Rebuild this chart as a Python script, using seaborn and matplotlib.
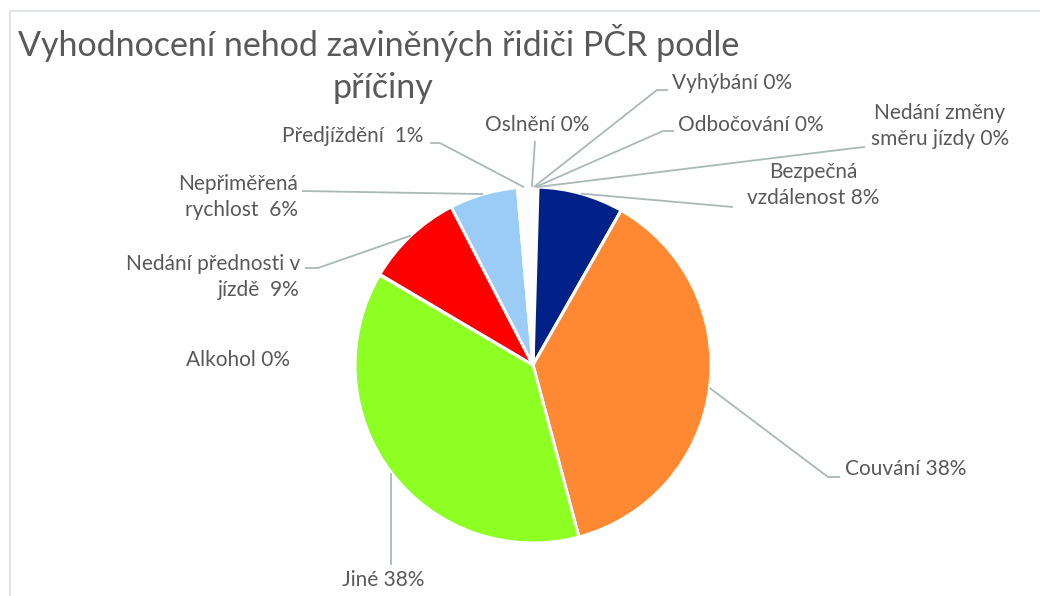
import matplotlib
matplotlib.use("Agg")
import matplotlib.pyplot as plt
import seaborn as sns
import numpy as np

# data (percent of accidents by cause), clockwise from 12 o'clock
causes = ["Vyhýbání", "Odbočování", "Nedání změny\nsměru jízdy", "Bezpečná\nvzdálenost",
          "Couvání", "Jiné", "Alkohol", "Nedání přednosti v\njízdě ", "Nepřiměřená\nrychlost ",
          "Předjíždění ", "Oslnění"]
shares = [0.15, 0.15, 0.15, 7.8, 37.6, 37.6, 0.05, 8.9, 6.2, 1.2, 0.2]
colors = ["#7F7F7F", "#A5A5A5", "#5B9BD5", "#002288", "#FF8833", "#8EFF22",
          "#C00000", "#FF0000", "#9ACCF5", "#FCFCFC", "#92D050"]

title_lines = ["Vyhodnocení nehod zaviněných řidiči PČR podle", "příčiny"]

sns.set_theme(style="white")
plt.rcParams['font.family'] = ['Lato', 'DejaVu Sans']

W, H = 1040, 596
fig = plt.figure(figsize=(W / 100, H / 100), dpi=100)
ax = fig.add_axes([0, 0, 1, 1])


def py(y):
    # pixel row -> data y
    return H - y


cx, cy, r = 533, 365, 178
wedges, _ = ax.pie(shares, colors=colors, startangle=90, counterclock=False,
                   center=(cx, py(cy)), radius=r, frame=True,
                   wedgeprops=dict(edgecolor="white", linewidth=2.2))
ax.set_xlim(0, W)
ax.set_ylim(0, H)
ax.set_aspect("equal")
ax.axis("off")

# chart area border (runs off the right/bottom of the picture)
ax.plot([10, 10, W + 5], [py(H + 5), py(11), py(11)], color="#D9DFDC", lw=1.2, clip_on=False)

ax.text(379, py(43), title_lines[0], ha="center", va="center", fontsize=24.5, color="#595959")
ax.text(383, py(88), title_lines[1], ha="center", va="center", fontsize=24.5, color="#595959")

# label layout: text anchor, alignment, leader path (pixel coords)
label_layout = [
    ((672, 83), "left", [(657, 90), (668, 90)]),
    ((678, 125), "left", [(663, 131), (674, 131)]),
    ((940, 126), "center", [(855, 148), (865, 147)]),
    ((813, 185), "center", [(733, 207)]),
    ((845, 469), "left", [(828, 477), (840, 477)]),
    ((383, 580), "center", [None, 565]),
    ((290, 360), "right", None),
    ((300, 277), "right", [(318, 268), (305, 268)]),
    ((298, 197), "right", [(302, 191)]),
    ((423, 136), "right", [(440, 143), (430, 143)]),
    ((537, 125), "center", [(535, 141)]),
]

leader = "#A9B9B6"
for w, name, v, (pos, ha, path) in zip(wedges, causes, shares, label_layout):
    mid = np.deg2rad((w.theta1 + w.theta2) / 2)
    sx, sy = cx + r * np.cos(mid), cy - r * np.sin(mid)
    if path is not None:
        if path[0] is None:
            pts = [(sx, sy), (sx, path[1])]
        else:
            pts = [(sx, sy)] + path
        xs = [p[0] for p in pts]
        ys = [py(p[1]) for p in pts]
        ax.plot(xs, ys, color=leader, lw=1.3, solid_capstyle="butt")
    ax.text(pos[0], py(pos[1]), f"{name} {round(v)}%", ha=ha, va="center",
            fontsize=15, color="#595959", linespacing=1.35)

fig.savefig("out.png", dpi=100)
